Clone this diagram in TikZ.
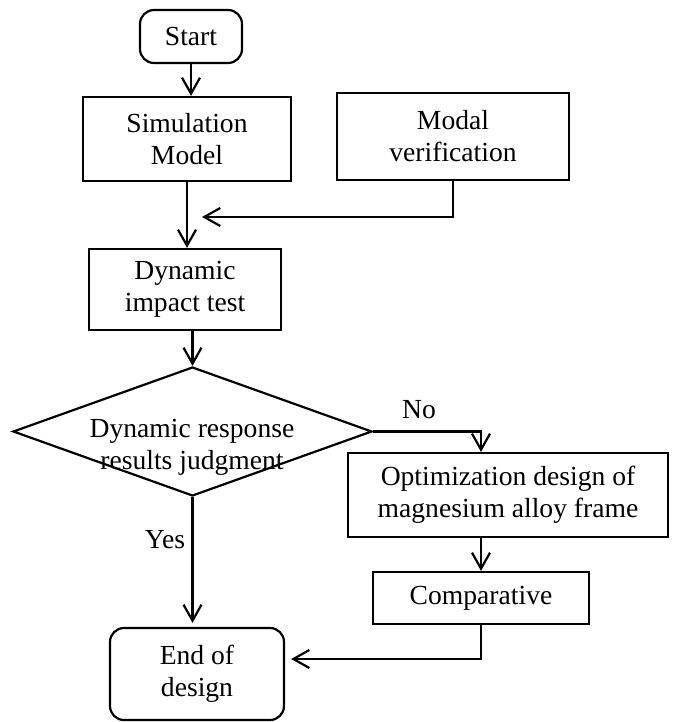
\documentclass[tikz,border=0pt]{standalone}
\usepackage{fontspec}
\setmainfont{Liberation Serif}
\usetikzlibrary{shapes.geometric,arrows.meta}
\newcommand{\flowFont}[0]{\fontsize{13.8}{16}\selectfont}

\begin{document}
\begin{tikzpicture}[x=0.5pt, y=0.5pt, line width=1.1pt]
  \tikzset{every node/.style={font=\flowFont, align=center, inner sep=0pt},
           box/.style={draw, rectangle, line width=1.1pt},
           term/.style={box, rounded corners=7pt},
           arr/.style={-{Straight Barb[length=8pt,width=9pt]}, line width=1.1pt}}
  \useasboundingbox (0,0) rectangle (674,-722);
  \node[term, minimum width=51pt, minimum height=26.5pt] (start) at (191,-36.5) {Start};
  \node[box, minimum width=104pt, minimum height=42pt] (sim) at (187,-139) {Simulation\\Model};
  \node[box, minimum width=116pt, minimum height=43.5pt] (modal) at (453,-136.5) {Modal\\verification};
  \node[box, minimum width=96pt, minimum height=40.5pt] (impact) at (185,-289.5) {Dynamic\\impact test};
  \node[draw, diamond, minimum width=179.5pt, minimum height=64.5pt] (judge) at (192.5,-431.5) {};
  \node (judgetext) at (192,-447) {Dynamic response\\results judgment};
  \node[box, minimum width=160pt, minimum height=42pt] (opt) at (508,-495) {Optimization design of\\magnesium alloy frame};
  \node[box, minimum width=108pt, minimum height=26pt] (comp) at (481,-598) {Comparative};
  \node[term, minimum width=87pt, minimum height=46pt] (endd) at (197,-674) {End of\\design};
  \node (no) at (419,-410) {No};
  \node (yes) at (165,-540) {Yes};
  \coordinate (merge) at (202,-217);
  \draw[arr] (start.south) -- (start.south |- sim.north);
  \draw[arr] (sim.south) -- (sim.south |- impact.north);
  \draw[arr] (modal.south) |- (merge);
  \draw[arr] (judge.north |- impact.south) -- (judge.north);
  \draw[arr] (judge.east) -| (comp.north |- opt.north);
  \draw[arr] (comp.north |- opt.south) -- (comp.north);
  \draw[arr] (comp.south) |- ([xshift=3pt, yshift=7.5pt]endd.east);
  \draw[arr] (judge.south) -- ([yshift=2pt]judge.south |- endd.north);
\end{tikzpicture}
\end{document}
